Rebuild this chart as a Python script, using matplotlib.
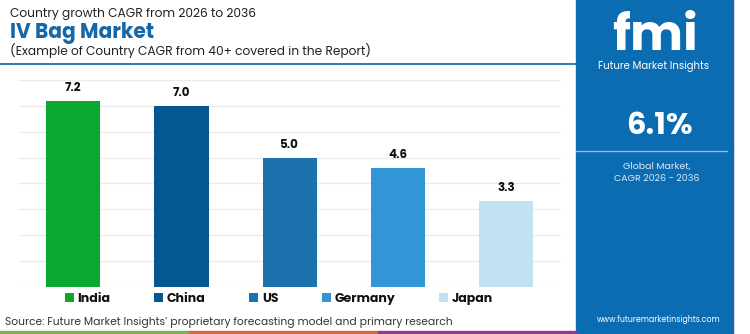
import matplotlib
matplotlib.use("Agg")
import matplotlib.pyplot as plt
from matplotlib.patches import Rectangle, Patch
from matplotlib.lines import Line2D

countries = ["India", "China", "US", "Germany", "Japan"]
cagr = [7.2, 7.0, 5.0, 4.6, 3.3]
bar_colors = ["#0aa82e", "#03598f", "#1b72ad", "#3195d6", "#c3e1f3"]
yticks = [0, 1, 2, 3, 4, 5, 6, 7, 8]
global_cagr = "6.1%"

FONT = ["Poppins", "Open Sans", "DejaVu Sans"]
plt.rcParams["font.family"] = FONT

W, H = 750, 334
fig = plt.figure(figsize=(W / 100, H / 100), dpi=100)
fig.patch.set_facecolor("white")

def fx(x):
    return x / W

def fy(y):
    return 1 - y / H

# Axes
ax = fig.add_axes([fx(19), fy(286.7), (560.5 - 19) / W, (286.7 - 80) / H])
x = list(range(len(countries)))
bars = ax.bar(x, cagr, width=0.5, color=bar_colors, zorder=3)
ax.set_xlim(-0.5, len(countries) - 0.5)
ax.set_ylim(0, 8)
ax.set_yticks(yticks)
ax.grid(axis="y", color="#ebebeb", linewidth=1, zorder=0)
ax.set_xticks([])
ax.tick_params(left=False, labelleft=False)
for s in ax.spines.values():
    s.set_visible(False)
for xi, v in zip(x, cagr):
    ax.annotate(f"{v:.1f}", (xi, v), xytext=(0, 5), textcoords="offset points",
                ha="center", va="bottom", fontsize=8.5, fontweight="bold", color="#111111")

# Header
fig.text(fx(10), fy(14), "Country growth CAGR from 2026 to 2036", fontsize=8.8,
         color="#222222", va="center", ha="left")
fig.text(fx(10), fy(33), "IV Bag Market", fontsize=14.5, fontweight="bold",
         color="#1467a9", va="center", ha="left")
fig.text(fx(10), fy(50), "(Example of Country CAGR from 40+ covered in the Report)",
         fontsize=8.8, color="#222222", va="center", ha="left")
fig.add_artist(Line2D([0, fx(576)], [fy(63.5), fy(63.5)], color="#1a6fb0", linewidth=1.3))

# Legend
handles = [Patch(facecolor=c, edgecolor="none") for c in bar_colors]
leg = fig.legend(handles, countries, loc="center", bbox_to_anchor=(fx(279), fy(299)),
                 ncol=5, frameon=False, prop={"weight": "bold", "size": 9},
                 handlelength=0.7, handleheight=0.7, handletextpad=0.3,
                 columnspacing=3.5, borderaxespad=0)
for t in leg.get_texts():
    t.set_color("#111111")

# Source
fig.text(fx(5), fy(322), "Source: Future Market Insights\u2019 proprietary forecasting model and primary research",
         fontsize=7.7, color="#333333", va="center", ha="left")

# Bottom strips
for x0, x1, c in [(0, 189, "#7cb342"), (189, 378, "#e0663a"), (378, 576, "#8e3a8f")]:
    fig.add_artist(Rectangle((fx(x0), 0), fx(x1 - x0), 3 / H, color=c, transform=fig.transFigure))

# Right panel
fig.add_artist(Rectangle((fx(576), 0), fx(733 - 576), 1, color="#0c6cb1",
                         transform=fig.transFigure, zorder=0))
fig.add_artist(Line2D([fx(733.5), fx(733.5)], [0, 1], color="#d9d9d9", linewidth=0.6))
# logo
fig.text(fx(655), fy(50), "fmi", fontsize=36, fontweight="bold", color="white",
         ha="center", va="baseline")
for yy in range(14, 50, 5):
    fig.add_artist(Line2D([fx(596), fx(720)], [fy(yy), fy(yy)], color="#0c6cb1", linewidth=1.2))
fig.text(fx(653.5), fy(67), "Future Market Insights", fontsize=7.3, color="white",
         ha="center", va="center")
fig.text(fx(659), fy(127), global_cagr, fontsize=22, fontweight="bold", color="white",
         ha="center", va="center")
fig.add_artist(Line2D([fx(576), fx(727)], [fy(150.7), fy(150.7)], color="#8fbde3", linewidth=1))
fig.text(fx(657), fy(166.5), "Global Market,", fontsize=6.8, color="#dbe8f4",
         ha="center", va="center")
fig.text(fx(657), fy(179), "CAGR 2026 - 2036", fontsize=6.8, color="#dbe8f4",
         ha="center", va="center")
fig.text(fx(658.5), fy(319), "www.futuremarketinsights.com", fontsize=5.7, color="white",
         ha="center", va="center")

fig.savefig("out.png", dpi=100, facecolor="white")
